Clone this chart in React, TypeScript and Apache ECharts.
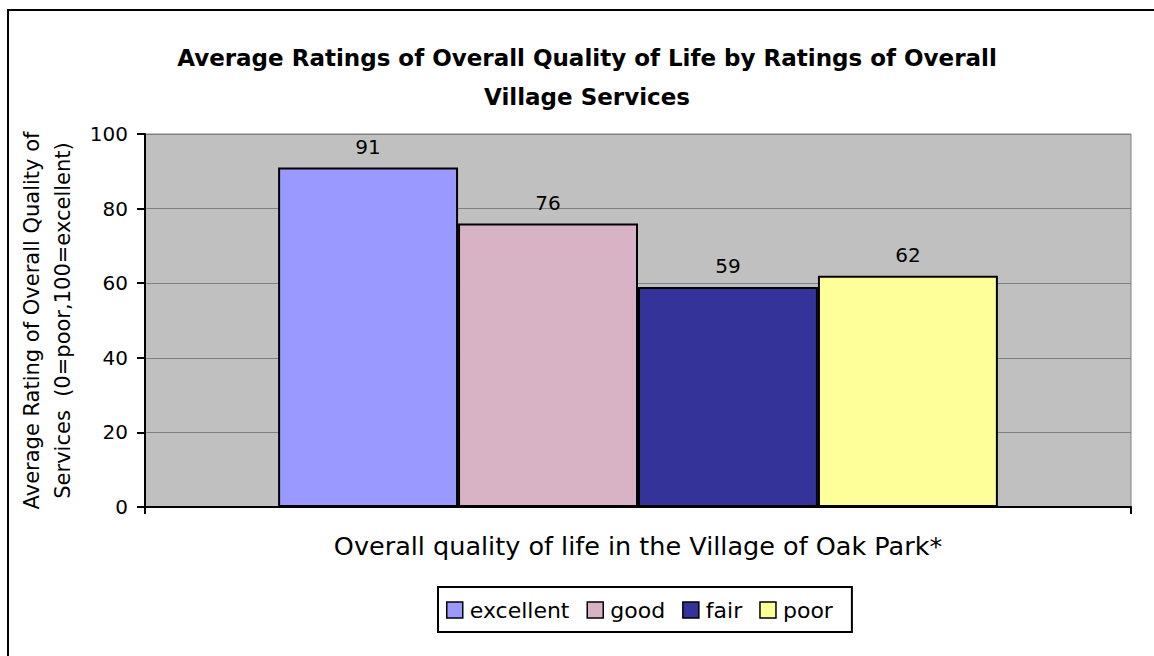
import React, { useEffect, useRef } from "react";
import * as echarts from "echarts";

const categories = ["Overall quality of life in the Village of Oak Park*"];
const seriesNames = ["excellent", "good", "fair", "poor"];
const seriesValues = [91, 76, 59, 62];
const seriesColors = ["#9999FF", "#D8B2C5", "#333399", "#FFFF99"];
const yTicks = [0, 20, 40, 60, 80, 100];

const FONT = "'DejaVu Sans', 'Liberation Sans', Arial, sans-serif";

export default function App() {
  const ref = useRef<HTMLDivElement>(null);
  useEffect(() => {
    if (!ref.current) return;
    const chart = echarts.init(ref.current, undefined, { renderer: "svg" });
    chart.setOption({
      animation: false,
      backgroundColor: "#ffffff",
      textStyle: { fontFamily: FONT },
      title: {
        text: "Average Ratings of Overall Quality of Life by Ratings of Overall\nVillage Services",
        left: 587,
        textAlign: "center",
        top: 38,
        padding: 0,
        textStyle: { fontFamily: FONT, fontSize: 23, fontWeight: "bold", color: "#000", lineHeight: 39 },
      },
      graphic: [
        {
          type: "rect",
          shape: { x: 8, y: 10, width: 1200, height: 700 },
          style: { fill: "none", stroke: "#000", lineWidth: 2 },
          silent: true,
          z: 100,
        },
      ],
      legend: {
        left: 438,
        top: 587,
        orient: "horizontal",
        data: seriesNames,
        icon: "rect",
        itemWidth: 16,
        itemHeight: 16,
        itemGap: 17,
        padding: [12, 19, 11, 8],
        borderColor: "#000",
        borderWidth: 2,
        itemStyle: { borderColor: "#000", borderWidth: 1.5 },
        textStyle: { fontFamily: FONT, fontSize: 22, color: "#000", padding: [0, 0, 0, 2] },
      },
      grid: {
        left: 145,
        right: 23,
        top: 134,
        bottom: 149,
        show: true,
        backgroundColor: "#C0C0C0",
        borderColor: "#808080",
        borderWidth: 1,
        containLabel: false,
      },
      xAxis: {
        type: "category",
        data: categories,
        axisLine: { show: true, lineStyle: { color: "#000", width: 2 } },
        axisTick: { show: true, length: 7, lineStyle: { color: "#000", width: 2 } },
        axisLabel: { show: false },
        name: categories[0],
        nameLocation: "middle",
        nameGap: 26,
        nameTextStyle: { fontFamily: FONT, fontSize: 25.5, color: "#000" },
      },
      yAxis: {
        type: "value",
        min: yTicks[0],
        max: yTicks[yTicks.length - 1],
        interval: 20,
        axisLine: { show: true, lineStyle: { color: "#000", width: 2 } },
        axisTick: { show: true, length: 8, lineStyle: { color: "#000", width: 2 } },
        axisLabel: { fontFamily: FONT, fontSize: 20, color: "#000", margin: 17 },
        splitLine: { show: true, lineStyle: { color: "#808080", width: 1 } },
        name: "Average Rating of Overall Quality of\nServices  (0=poor,100=excellent)",
        nameLocation: "middle",
        nameGap: 61,
        nameTextStyle: { fontFamily: FONT, fontSize: 21, color: "#000", lineHeight: 31 },
      },
      series: seriesNames.map((name, i) => ({
        name,
        type: "bar",
        data: [seriesValues[i]],
        barGap: "0%",
        barCategoryGap: "27%",
        itemStyle: { color: seriesColors[i], borderColor: "#000", borderWidth: 2 },
        label: {
          show: true,
          position: "top",
          distance: 11,
          fontFamily: FONT,
          fontSize: 20,
          color: "#000",
        },
      })),
    });
    return () => chart.dispose();
  }, []);
  return (
    <div
      ref={ref}
      style={{ position: "fixed", left: 0, top: 0, width: 1154, height: 656 }}
    />
  );
}
